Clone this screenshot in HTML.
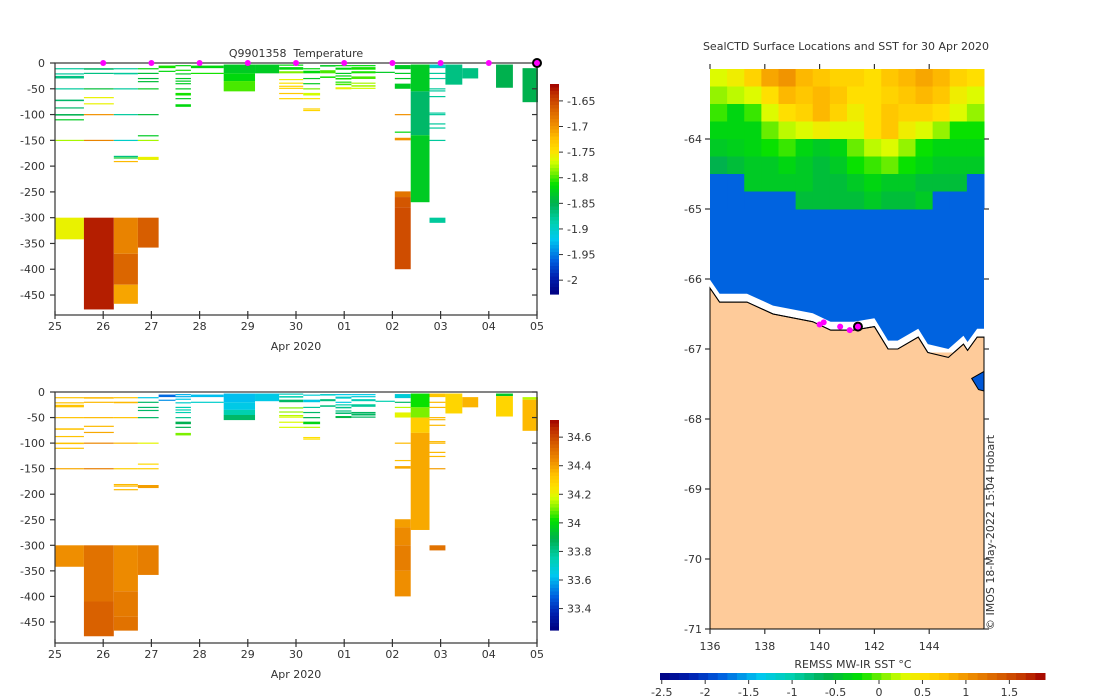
<!DOCTYPE html>
<html><head><meta charset="utf-8">
<style>
html,body{margin:0;padding:0;background:#fff;}
svg{display:block;font-family:"DejaVu Sans","Liberation Sans",sans-serif;}
text{fill:#333;font-size:11px;white-space:pre;}
</style></head>
<body>
<svg id="chart" width="1100" height="700"></svg>
<script>
// ---- data ----
const dayLabels=["25","26","27","28","29","30","01","02","03","04","05"];
const depthTicks=[0,-50,-100,-150,-200,-250,-300,-350,-400,-450];
const tempTicks=[-1.65,-1.7,-1.75,-1.8,-1.85,-1.9,-1.95,-2];
const salTicks=[34.6,34.4,34.2,34,33.8,33.6,33.4];
const sstTicks=[-2.5,-2,-1.5,-1,-0.5,0,0.5,1,1.5];
const lonTicks=[136,138,140,142,144];
const latTicks=[-64,-65,-66,-67,-68,-69,-70,-71];
const surfaceDays=[1,2,3,4,5,6,7,8,9,10];
// profile day spans (days since 25 Apr)
const profStart=[0,0.6,1.22,1.72,2.15,2.5,2.82,3.5,4.15,4.65,5.15,5.5,5.82,6.15,6.65,7.05,7.38,7.77,8.1,8.45,9.15,9.7];
const profEnd=[0.6,1.22,1.72,2.15,2.5,2.82,3.5,4.15,4.65,5.15,5.5,5.82,6.15,6.65,7.05,7.38,7.77,8.1,8.45,8.78,9.5,10.02];
// temperature cells per profile: [topDepth,bottomDepth,value]
const tempCells=[
[[10,11,-1.88],[20,21,-1.88],[25,30,-1.87],[49,50,-1.88],[71,74,-1.86],[86,87,-1.86],[99,102,-1.85],[109,110,-1.83],[149,150,-1.78],[300,342,-1.76]],
[[10,13,-1.86],[19,20,-1.87],[49,50,-1.84],[66,67,-1.76],[78,79,-1.76],[99,100,-1.7],[149,150,-1.69],[300,478,-1.63]],
[[10,11,-1.88],[19,22,-1.88],[49,50,-1.88],[99,100,-1.88],[149,150,-1.9],[180,181,-1.87],[183,184,-1.83],[190,191,-1.72],[300,370,-1.69],[370,430,-1.67],[430,467,-1.71]],
[[10,11,-1.82],[19,20,-1.84],[29,30,-1.84],[35,36,-1.84],[49,50,-1.83],[99,100,-1.84],[140,141,-1.83],[149,150,-1.78],[182,188,-1.76],[300,358,-1.665]],
[[5,10,-1.81],[15,16,-1.82]],
[[4,5,-1.82],[13,14,-1.81],[20,21,-1.83],[29,30,-1.83],[34,35,-1.83],[39,40,-1.83],[49,50,-1.83],[58,63,-1.81],[68,69,-1.83],[80,85,-1.82]],
[[5,10,-1.82],[19,20,-1.81]],
[[3,20,-1.83],[20,35,-1.82],[35,55,-1.8]],
[[3,20,-1.83]],
[[3,4,-1.82],[8,13,-1.82],[16,20,-1.79],[31,32,-1.76],[38,39,-1.75],[44,45,-1.74],[48,50,-1.74],[58,59,-1.73],[68,69,-1.74]],
[[10,11,-1.82],[15,20,-1.82],[29,30,-1.83],[39,40,-1.83],[49,50,-1.79],[58,63,-1.77],[68,69,-1.75],[88,89,-1.74],[91,93,-1.74]],
[[4,7,-1.83],[14,20,-1.8],[26,29,-1.81]],
[[4,5,-1.82],[9,13,-1.82],[19,20,-1.83],[24,26,-1.82],[29,32,-1.81],[36,37,-1.81],[40,43,-1.8],[47,51,-1.76]],
[[4,5,-1.82],[8,13,-1.81],[16,20,-1.81],[26,31,-1.8],[38,40,-1.78],[43,46,-1.78],[48,50,-1.77]],
[[17,19,-1.83]],
[[4,12,-1.83],[19,20,-1.83],[29,30,-1.83],[40,50,-1.83],[99,100,-1.7],[133,134,-1.82],[145,150,-1.7],[249,260,-1.68],[260,280,-1.66],[280,400,-1.655]],
[[3,55,-1.83],[55,140,-1.86],[140,270,-1.83]],
[[3,10,-1.9],[19,20,-1.88],[29,30,-1.88],[49,50,-1.88],[53,54,-1.88],[64,65,-1.88],[96,97,-1.88],[99,100,-1.88],[117,118,-1.88],[125,126,-1.88],[149,150,-1.88],[300,310,-1.88]],
[[3,42,-1.87]],
[[10,30,-1.87]],
[[3,48,-1.85]],
[[10,76,-1.85]]
];
// salinity cells per profile
const salCells=[
[[10,11,34.33],[20,21,34.33],[25,30,34.33],[49,50,34.33],[71,74,34.33],[86,87,34.33],[99,102,34.33],[109,110,34.33],[149,150,34.38],[300,342,34.43]],
[[10,13,34.35],[19,20,34.35],[49,50,34.35],[66,67,34.35],[78,79,34.38],[99,100,34.45],[149,150,34.47],[300,410,34.5],[410,478,34.54]],
[[10,11,34.33],[19,22,34.35],[49,50,34.33],[99,100,34.35],[149,150,34.3],[180,181,34.35],[183,184,34.35],[190,191,34.35],[300,390,34.44],[390,440,34.48],[440,467,34.5]],
[[10,11,33.65],[19,20,33.85],[29,30,33.85],[35,36,33.85],[49,50,33.85],[99,100,34.2],[140,141,34.27],[149,150,34.3],[182,188,34.4],[300,358,34.47]],
[[5,10,33.5],[15,16,33.55]],
[[4,5,33.6],[8,9,33.6],[13,14,33.65],[20,21,33.7],[29,30,33.75],[34,35,33.75],[39,40,33.75],[49,50,33.8],[58,63,33.88],[68,69,33.88],[80,85,34.1]],
[[5,10,33.62],[19,20,33.7]],
[[3,20,33.62],[20,35,33.65],[35,45,33.75],[45,55,33.85]],
[[3,18,33.65]],
[[3,5,33.72],[8,11,33.75],[15,20,33.85],[30,31,34.1],[38,39,34.12],[45,46,34.15],[48,50,34.18],[58,59,34.18],[68,69,34.18]],
[[5,6,33.68],[15,20,33.65],[29,30,33.78],[39,40,33.85],[49,50,33.88],[58,63,33.98],[68,69,34.15],[88,89,34.25],[91,93,34.25]],
[[4,7,33.7],[14,18,33.82],[26,29,33.82]],
[[4,5,33.65],[9,13,33.7],[19,20,33.66],[24,26,33.75],[29,32,33.8],[36,37,33.82],[40,43,33.84],[47,51,33.9]],
[[4,5,33.65],[8,10,33.68],[14,18,33.74],[24,29,33.78],[39,40,33.86],[42,46,33.86],[48,50,33.86]],
[[17,18,33.75]],
[[4,12,33.68],[19,20,33.85],[29,30,34.15],[40,50,34.2],[99,100,34.35],[133,134,34.33],[145,150,34.38],[249,265,34.4],[265,300,34.44],[300,350,34.47],[350,400,34.43]],
[[3,30,34.02],[30,50,34.1],[50,80,34.3],[80,270,34.38]],
[[3,10,34.32],[19,20,34.35],[29,30,34.35],[49,50,34.35],[53,54,34.35],[64,65,34.35],[96,97,34.35],[99,100,34.35],[117,118,34.35],[125,126,34.35],[149,150,34.4],[300,310,34.5]],
[[3,42,34.28]],
[[10,30,34.36]],
[[3,8,33.95],[8,48,34.28]],
[[10,15,34.15],[15,76,34.35]]
];
// SST grid rows (north to south), 16 columns from 136E to 146E, 0.25 deg rows from 63S
const sstRow1=[0.3,0.4,0.6,0.9,1.0,0.8,0.7,0.6,0.6,0.5,0.7,0.8,0.9,0.8,0.6,0.5];
const sstRow2=[0.1,0.2,0.3,0.5,0.8,0.7,0.8,0.7,0.5,0.5,0.6,0.7,0.8,0.7,0.4,0.3];
const sstRow3=[-0.1,-0.3,-0.1,0.3,0.5,0.6,0.8,0.6,0.4,0.5,0.7,0.6,0.6,0.5,0.3,0.1];
const sstRow4=[-0.3,-0.3,-0.3,0,0.2,0.3,0.4,0.3,0.3,0.5,0.7,0.4,0.3,0.1,-0.2,-0.2];
const sstRow5=[-0.4,-0.35,-0.3,-0.2,-0.1,-0.3,-0.4,-0.3,0,0.2,0.3,0.1,-0.2,-0.3,-0.3,-0.3];
const sstRow6=[-0.6,-0.5,-0.4,-0.4,-0.3,-0.4,-0.5,-0.4,-0.2,-0.1,0,-0.2,-0.3,-0.4,-0.4,-0.4];
const sstRow7=[-1.8,-1.8,-0.4,-0.4,-0.4,-0.4,-0.5,-0.5,-0.4,-0.3,-0.4,-0.4,-0.5,-0.5,-0.5,-1.8];
const sstRow8=[-1.8,-1.8,-1.8,-1.8,-1.8,-0.5,-0.5,-0.5,-0.5,-0.4,-0.5,-0.5,-0.4,-1.8,-1.8,-1.8];
const sstRows=[sstRow1,sstRow2,sstRow3,sstRow4,sstRow5,sstRow6,sstRow7,sstRow8];
const openSST=-1.8;
// coastline (lon, lat)
const coastLon=[136,136.35,137.35,138.3,139.75,140.4,141.25,142,142.5,142.85,143.6,143.95,144.7,145.25,145.4,145.75,146];
const coastLat=[-66.13,-66.33,-66.33,-66.5,-66.61,-66.73,-66.73,-66.68,-67.0,-67.0,-66.83,-67.05,-67.12,-66.93,-67.02,-66.83,-66.83];
// CTD surface locations
const ctdLon=[140.0,140.15,140.75,141.1,141.4];
const ctdLat=[-66.65,-66.62,-66.68,-66.73,-66.68];

// ---- helpers ----
const NS="http://www.w3.org/2000/svg";
const svg=document.getElementById('chart');
function el(tag,attrs,parent){const e=document.createElementNS(NS,tag);for(const k in attrs)e.setAttribute(k,attrs[k]);(parent||svg).appendChild(e);return e;}
const cmapStops=[[0,[0,0,128]],[0.08,[0,32,176]],[0.16,[0,96,224]],[0.26,[0,200,240]],[0.34,[0,208,176]],[0.43,[0,176,80]],[0.52,[0,224,0]],[0.58,[128,240,0]],[0.63,[216,255,0]],[0.68,[255,224,0]],[0.74,[255,192,0]],[0.8,[240,144,0]],[0.88,[216,96,0]],[0.95,[192,48,0]],[1,[160,0,0]]];
function cmap(f){f=Math.max(0,Math.min(1,f));for(let i=1;i<cmapStops.length;i++){if(f<=cmapStops[i][0]){const a=cmapStops[i-1],b=cmapStops[i];const t=(f-a[0])/(b[0]-a[0]);const c=a[1].map((v,j)=>Math.round(v+(b[1][j]-v)*t));return `rgb(${c[0]},${c[1]},${c[2]})`;}}return 'rgb(160,0,0)';}

const X0=55,X1=537;
const xDay=d=>X0+d*(X1-X0)/10;

function panel(name,y0,yScale,yBottom,cells,vmin,vmax,ticks,cbTop,cbBot,title){
  const g=el('g',{});
  
  
  const yD=dep=>y0+dep*yScale;
  for(let p=0;p<cells.length;p++){
    for(const c of cells[p]){
      const r=el('rect',{x:xDay(profStart[p]),y:yD(c[0]),width:xDay(profEnd[p])-xDay(profStart[p]),height:Math.max(1.2,yD(c[1])-yD(c[0])),fill:cmap((c[2]-vmin)/(vmax-vmin))},g);
      
      
    }
  }
  const ax=el('g',{stroke:'#333','stroke-width':1.2,fill:'none'},g);
  
  
  el('rect',{x:X0,y:y0,width:X1-X0,height:yBottom-y0},ax);
  for(const t of depthTicks){
    const y=yD(-t);
    el('line',{x1:X0-5,y1:y,x2:X0,y2:y},ax);
    el('line',{x1:X1-5,y1:y,x2:X1,y2:y},ax);
    const tx=el('text',{x:X0-10,y:y+4,'text-anchor':'end',stroke:'none'},g);tx.textContent=t;
    
    
  }
  dayLabels.forEach((l,i)=>{
    const x=xDay(i);
    el('line',{x1:x,y1:yBottom-4,x2:x,y2:yBottom+4},ax);
    const tx=el('text',{x:x,y:yBottom+15,'text-anchor':'middle'},g);tx.textContent=l;
    
    
  });
  const xt=el('text',{x:(X0+X1)/2,y:yBottom+35,'text-anchor':'middle'},g);xt.textContent='Apr 2020';
  
  
  if(title){const tt=el('text',{x:(X0+X1)/2,y:y0-6,'text-anchor':'middle','font-size':'12'},g);tt.textContent=title;
    
    }
  // colorbar
  const cb=el('g',{},g);
  
  
  const n=60;
  for(let i=0;i<n;i++){
    const h=(cbBot-cbTop)/n;
    el('rect',{x:550,y:cbTop+i*h,width:9,height:h+0.6,fill:cmap(1-(i+0.5)/n)},cb);
  }
  ticks.forEach(t=>{
    const y=cbBot-(t-vmin)/(vmax-vmin)*(cbBot-cbTop);
    el('line',{x1:559,y1:y,x2:563,y2:y,stroke:'#333'},cb);
    const tx=el('text',{x:567,y:y+4},cb);tx.textContent=t;
    
    
  });
  return yD;
}
const yT=panel('temperature-panel',63,0.5156,315,tempCells,-2.027,-1.617,tempTicks,84,294,'Q9901358  Temperature');
panel('salinity-panel',392,0.511,643,salCells,33.25,34.72,salTicks,420,630,null);
surfaceDays.forEach((d,i)=>{
  const last=i===surfaceDays.length-1;
  const c=el('circle',{cx:xDay(d),cy:63,r:last?4:3,fill:'#ff00ff',stroke:last?'#000':'none','stroke-width':last?2:0});
  
  
});

// ---- map ----
const MX0=710,MX1=984,MY0=69,MY1=629;
const mx=lon=>MX0+(lon-136)*(MX1-MX0)/10;
const my=lat=>MY0+(-63-lat)*(MY1-MY0)/8;
const sstMin=-2.52,sstMax=1.91;
const map=el('g',{});


const ocean=el('rect',{x:MX0,y:my(-65),width:MX1-MX0,height:my(-67.3)-my(-65),fill:cmap((openSST-sstMin)/(sstMax-sstMin))},map);


sstRows.forEach((row,ri)=>{row.forEach((v,ci)=>{
  const r=el('rect',{x:mx(136+ci*0.625),y:my(-63-ri*0.25),width:(MX1-MX0)/16+0.5,height:(MY1-MY0)/32+0.5,fill:cmap((v-sstMin)/(sstMax-sstMin))},map);
  
  
});});
// white ice strip along coast
let icePts=coastLon.map((l,i)=>`${mx(l)},${my(coastLat[i]+0.12)}`).join(' ');
icePts+=' '+coastLon.slice().reverse().map((l,i,a)=>`${mx(l)},${my(coastLat[coastLat.length-1-i])}`).join(' ');
const ice=el('polygon',{points:icePts,fill:'#fff'},map);


// land
let landPts=coastLon.map((l,i)=>`${mx(l)},${my(coastLat[i])}`).join(' ')+` ${MX1},${MY1} ${MX0},${MY1}`;
const land=el('polygon',{points:landPts,fill:'#fecb9a',stroke:'#000','stroke-width':1},map);


el('rect',{x:MX0,y:my(-67.05),width:MX1-MX0,height:MY1-my(-67.05),fill:'#fecb9a'},map);
el('polygon',{points:landPts,fill:'none',stroke:'#000','stroke-width':1},map);
// small bay at right
const bay=el('polygon',{points:`${MX1},${my(-67.32)} ${mx(145.55)},${my(-67.42)} ${mx(145.8)},${my(-67.58)} ${MX1},${my(-67.6)}`,fill:'#0057d6',stroke:'#000','stroke-width':1},map);


ctdLon.forEach((l,i)=>{
  const last=i===ctdLon.length-1;
  const c=el('circle',{cx:mx(l),cy:my(ctdLat[i]),r:last?4:3,fill:'#ff00ff',stroke:last?'#000':'none','stroke-width':2},map);
  
  
});
const max=el('g',{stroke:'#333','stroke-width':1.2},map);
lonTicks.forEach(l=>{
  el('line',{x1:mx(l),y1:MY0-5,x2:mx(l),y2:MY0},max);
  el('line',{x1:mx(l),y1:MY1,x2:mx(l),y2:MY1+5},max);
  const t=el('text',{x:mx(l),y:MY1+21,'text-anchor':'middle',stroke:'none'},map);t.textContent=l;
  
  
});
latTicks.forEach(l=>{
  el('line',{x1:MX0-5,y1:my(l),x2:MX0,y2:my(l)},max);
  el('line',{x1:MX1,y1:my(l),x2:MX1+5,y2:my(l)},max);
  const t=el('text',{x:MX0-8,y:my(l)+4,'text-anchor':'end',stroke:'none'},map);t.textContent=l;
  
  
});
const mt=el('text',{x:846,y:50,'text-anchor':'middle','font-size':'12'});mt.textContent='SealCTD Surface Locations and SST for 30 Apr 2020';


const cp=el('text',{x:0,y:0,transform:'translate(994,630) rotate(-90)','font-size':'10'});cp.textContent='© IMOS 18-May-2022 15:04 Hobart';


// SST colorbar
const scb=el('g',{});


const CBX0=660,CBX1=1045,nb=40;
for(let i=0;i<nb;i++){const w=(CBX1-CBX0)/nb;el('rect',{x:CBX0+i*w,y:673,width:w+0.5,height:7,fill:cmap((i+0.5)/nb)},scb);}
sstTicks.forEach(t=>{
  const x=CBX0+(t-sstMin)/(sstMax-sstMin)*(CBX1-CBX0);
  el('line',{x1:x,y1:680,x2:x,y2:684,stroke:'#333'},scb);
  const tx=el('text',{x:x,y:696,'text-anchor':'middle'},scb);tx.textContent=t;
  
  
});
const st=el('text',{x:853,y:668,'text-anchor':'middle'},scb);st.textContent='REMSS MW-IR SST °C';


</script>
</body></html>
